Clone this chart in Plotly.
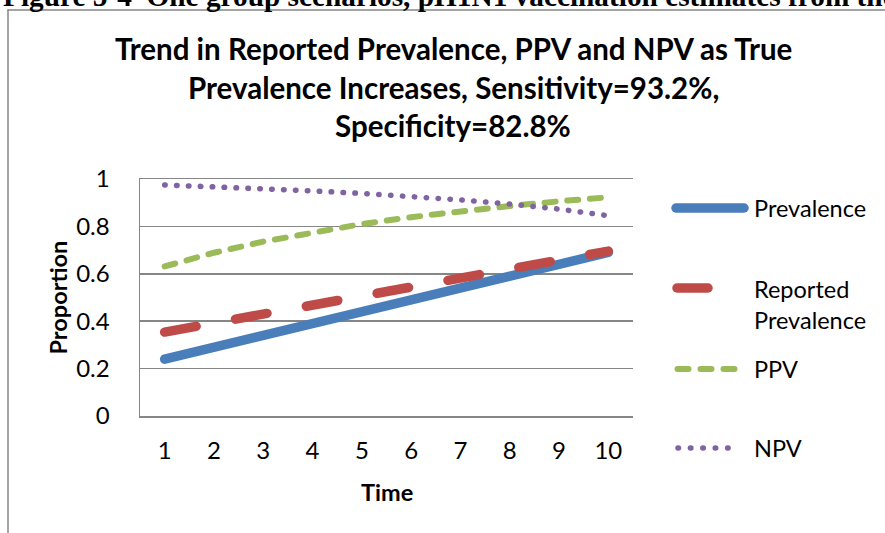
import plotly.graph_objects as go

# ---------------- data ----------------
time = [1, 2, 3, 4, 5, 6, 7, 8, 9, 10]
prevalence = [0.24, 0.29, 0.34, 0.39, 0.44, 0.49, 0.54, 0.59, 0.64, 0.69]
reported_prevalence = [0.354, 0.392, 0.430, 0.468, 0.506, 0.544, 0.582, 0.620, 0.658, 0.696]
ppv = [0.631, 0.689, 0.736, 0.776, 0.810, 0.839, 0.864, 0.886, 0.906, 0.923]
npv = [0.975, 0.968, 0.959, 0.950, 0.939, 0.927, 0.912, 0.894, 0.873, 0.845]
series_names = ["Prevalence", "Reported<br>Prevalence", "PPV", "NPV"]
y_tick_values = [0, 0.2, 0.4, 0.6, 0.8, 1]
y_tick_labels = ["0", "0.2", "0.4", "0.6", "0.8", "1"]
x_tick_labels = ["1", "2", "3", "4", "5", "6", "7", "8", "9", "10"]
title_lines = [
    "Trend in Reported Prevalence, PPV and NPV as True",
    "Prevalence Increases, Sensitivity=93.2%,",
    "Specificity=82.8%",
]
caption = "Figure 5-4  One group scenarios, pH1N1 vaccination estimates from the"

# ---------------- layout geometry (pixels) ----------------
W, H = 885, 533
L, R, T, B = 140, 633, 179, 416


def xp(px):
    return (px - L) / (R - L)


def yp(py):
    return (B - py) / (B - T)


GRAY = "#868686"
BLUE = "#4A7EBB"
RED = "#BE4B48"
GREEN = "#9BBB59"
PURPLE = "#8064A2"
FONT = "Lato"

fig = go.Figure()
fig.add_trace(go.Scatter(x=time, y=prevalence, mode="lines", name="Prevalence",
                         line=dict(color=BLUE, width=9.5), showlegend=False))
fig.add_trace(go.Scatter(x=time, y=reported_prevalence, mode="lines", name="Reported Prevalence",
                         line=dict(color=RED, width=9.5, dash="32px,40px"), showlegend=False))
fig.add_trace(go.Scatter(x=time, y=ppv, mode="lines", name="PPV",
                         line=dict(color=GREEN, width=6, dash="11px,11.7px"), showlegend=False))
fig.add_trace(go.Scatter(x=time, y=npv, mode="lines", name="NPV",
                         line=dict(color=PURPLE, width=5.5, dash="0.5px,11.4px"), showlegend=False))

shapes = []
# outer chart border (left and top edges visible)
shapes.append(dict(type="line", xref="paper", yref="paper", x0=xp(8), y0=yp(10), x1=xp(8), y1=yp(560),
                   line=dict(color=GRAY, width=1.5)))
shapes.append(dict(type="line", xref="paper", yref="paper", x0=xp(8), y0=yp(10), x1=xp(900), y1=yp(10),
                   line=dict(color=GRAY, width=1.5)))

# legend samples
legend_samples = [
    (676, 744, 208, BLUE, 9.5, "solid"),
    (677, 708, 288, RED, 9.5, "solid"),
    (677.5, 736.5, 369, GREEN, 6, "11px,12px"),
    (678, 738, 448, PURPLE, 5.5, "0.5px,11.9px"),
]
for x0, x1, yy, c, w, d in legend_samples:
    shapes.append(dict(type="line", xref="paper", yref="paper", x0=xp(x0), y0=yp(yy), x1=xp(x1), y1=yp(yy),
                       line=dict(color=c, width=w, dash=d)))

annotations = []
legend_text_y = [208, 304, 369, 448]
for name, yy in zip(series_names, legend_text_y):
    annotations.append(dict(text=name, xref="paper", yref="paper", x=xp(752), y=yp(yy),
                            xanchor="left", yanchor="middle", showarrow=False, align="left",
                            font=dict(family=FONT, size=23.5, color="black")))

title_y = [48.5, 87, 125.5]
for line, yy in zip(title_lines, title_y):
    annotations.append(dict(text="<b>" + line + "</b>", xref="paper", yref="paper", x=xp(453), y=yp(yy),
                            xanchor="center", yanchor="middle", showarrow=False,
                            font=dict(family=FONT, size=29.5, color="black")))

annotations.append(dict(text="<b>Proportion</b>", xref="paper", yref="paper", x=xp(57), y=yp(297.5),
                        xanchor="center", yanchor="middle", showarrow=False, textangle=-90,
                        font=dict(family=FONT, size=23.5, color="black")))
annotations.append(dict(text="<b>Time</b>", xref="paper", yref="paper", x=xp(386.5), y=yp(492),
                        xanchor="center", yanchor="middle", showarrow=False,
                        font=dict(family=FONT, size=23.5, color="black")))
annotations.append(dict(text="<b>" + caption + "</b>", xref="paper", yref="paper", x=xp(1), y=yp(-4),
                        xanchor="left", yanchor="middle", showarrow=False,
                        font=dict(family="Liberation Serif", size=29.3, color="black")))

fig.update_layout(
    width=W, height=H,
    margin=dict(l=L, r=W - R, t=T, b=H - B, pad=0),
    paper_bgcolor="white", plot_bgcolor="white",
    shapes=shapes, annotations=annotations,
    xaxis=dict(range=[0.5, 10.5], tickvals=time, ticktext=x_tick_labels, showgrid=False,
               showline=True, linecolor=GRAY, linewidth=1.5, mirror=True, zeroline=False,
               ticks="", ticklabelstandoff=13, fixedrange=True,
               tickfont=dict(family=FONT, size=24, color="black")),
    yaxis=dict(range=[0, 1], tickvals=y_tick_values, ticktext=y_tick_labels, showgrid=True,
               gridcolor=GRAY, gridwidth=1.5, showline=True, linecolor=GRAY, linewidth=1.5,
               zeroline=False, ticks="", ticklabelstandoff=24, fixedrange=True,
               tickfont=dict(family=FONT, size=24, color="black")),
)

post = """
var gd = document.querySelector('.plotly-graph-div');
gd.querySelectorAll('.scatterlayer path.js-line, .shapelayer path').forEach(function(p){
  p.style.strokeLinecap = 'round';
});
"""
fig.write_html("out.html", post_script=post, config={"staticPlot": True})
